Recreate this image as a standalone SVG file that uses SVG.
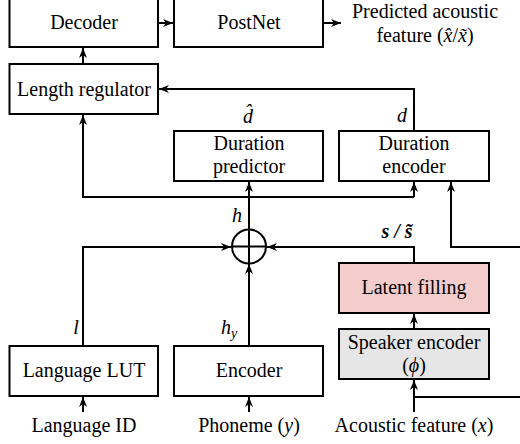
<svg xmlns="http://www.w3.org/2000/svg" width="520" height="444" viewBox="0 0 520 444">
<style>
.box{fill:#fff;stroke:#000;stroke-width:2}
text{font-family:'Liberation Serif',Tinos,'Times New Roman',Times,'DejaVu Serif',serif;font-size:20px;fill:#000;text-anchor:middle}
.m{font-style:italic}
.c{fill:none;stroke:#000;stroke-width:2}
</style>
<defs>
<marker id="ah" markerUnits="userSpaceOnUse" markerWidth="11" markerHeight="9" refX="10" refY="4.5" orient="auto">
<path d="M0,0.5 L10,4.5 L0,8.5 L3,4.5 Z" fill="#000"/>
</marker>
</defs>
<rect width="520" height="444" fill="#fff"/>

<g id="connectors">
<path class="c" d="M158,23 H173" marker-end="url(#ah)"/>
<path class="c" d="M323,23 H341" marker-end="url(#ah)"/>
<path class="c" d="M83,64 V48" marker-end="url(#ah)"/>
<path class="c" d="M414,131 V89 H159" marker-end="url(#ah)"/>
<path class="c" d="M414,197 H83 V115" marker-end="url(#ah)"/>
<path class="c" d="M414,197 V182" marker-end="url(#ah)"/>
<path class="c" d="M249,229 V182" marker-end="url(#ah)"/>
<path class="c" d="M520,247 H451 V182" marker-end="url(#ah)"/>
<path class="c" d="M83,346 V247 H231" marker-end="url(#ah)"/>
<path class="c" d="M249,346 V264" marker-end="url(#ah)"/>
<path class="c" d="M414,263 V247 H267" marker-end="url(#ah)"/>
<path class="c" d="M414,329 V314" marker-end="url(#ah)"/>
<path class="c" d="M414,412 V380" marker-end="url(#ah)"/>
<path class="c" d="M414,397 H520"/>
<path class="c" d="M83,412 V397" marker-end="url(#ah)"/>
<path class="c" d="M249,412 V397" marker-end="url(#ah)"/>
</g>

<g id="decoder">
<rect class="box" x="9.5" y="-3" width="148.5" height="50"/>
<text x="84" y="29" font-family="Liberation Serif, serif">Decoder</text>
</g>
<g id="postnet">
<rect class="box" x="174" y="-3" width="149" height="50"/>
<text x="249" y="29">PostNet</text>
</g>
<g id="output">
<text x="425" y="18">Predicted acoustic</text>
<text x="425" y="42">feature (<tspan font-style="italic">x̂</tspan>/<tspan font-style="italic">x̃</tspan>)</text>
</g>
<g id="length-regulator">
<rect class="box" x="9.5" y="64" width="148.5" height="50"/>
<text x="84" y="96">Length regulator</text>
</g>
<g id="duration-predictor">
<rect class="box" x="174" y="131" width="149" height="50"/>
<text x="249" y="150">Duration</text>
<text x="249" y="173">predictor</text>
</g>
<g id="duration-encoder">
<rect class="box" x="339" y="131" width="150" height="50"/>
<text x="414" y="150">Duration</text>
<text x="414" y="173">encoder</text>
</g>
<g id="sum">
<circle cx="249" cy="246.5" r="17" fill="#fff" stroke="#000" stroke-width="2"/>
<path class="c" d="M249,229.5 V263.5 M232,246.5 H266"/>
</g>
<g id="latent-filling">
<rect x="339" y="263" width="150" height="50" fill="#f4cccc" stroke="#000" stroke-width="2"/>
<text x="414" y="294">Latent filling</text>
</g>
<g id="speaker-encoder">
<rect x="339" y="329" width="150" height="50" fill="#e6e6e6" stroke="#000" stroke-width="2"/>
<text x="414" y="349">Speaker encoder</text>
<text x="414" y="372">(<tspan font-style="italic">ϕ</tspan>)</text>
</g>
<g id="language-lut">
<rect class="box" x="9.5" y="346" width="148.5" height="50"/>
<text x="84" y="377">Language LUT</text>
</g>
<g id="encoder">
<rect class="box" x="174" y="346" width="149" height="50"/>
<text x="249" y="377">Encoder</text>
</g>
<g id="inputs">
<text x="84" y="432">Language ID</text>
<text x="249" y="432">Phoneme (<tspan font-style="italic">y</tspan>)</text>
<text x="414" y="432">Acoustic feature (<tspan font-style="italic">x</tspan>)</text>
</g>
<g id="labels">
<text class="m" x="248" y="123">d̂</text>
<text class="m" x="402" y="122">d</text>
<text class="m" x="237" y="222">h</text>
<text class="m" x="397" y="238" font-weight="bold">s / s̃</text>
<text class="m" x="76" y="334">l</text>
<text class="m" x="229" y="334">h<tspan font-size="14" dy="4">y</tspan></text>
</g>
</svg>
